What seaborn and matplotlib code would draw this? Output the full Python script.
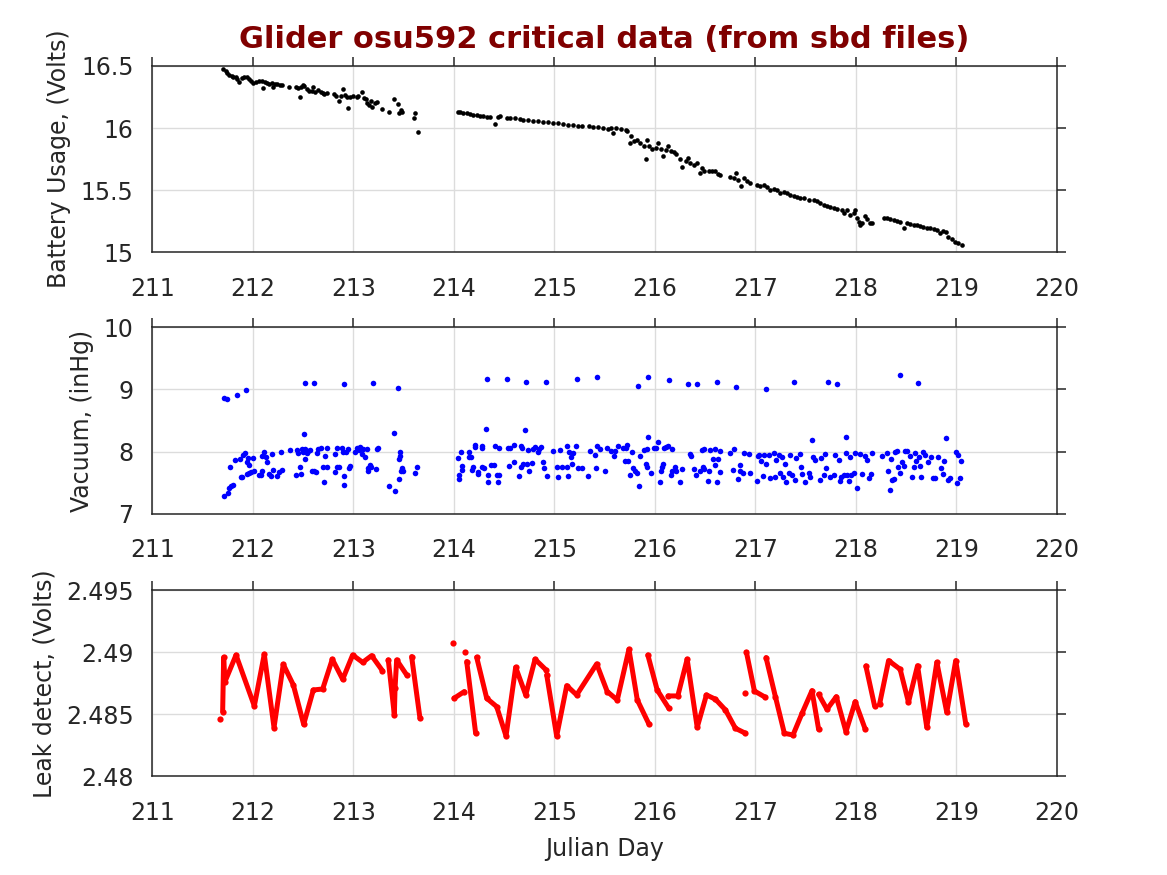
import matplotlib
matplotlib.use("Agg")
import matplotlib.pyplot as plt
import seaborn as sns
import numpy as np
import pandas as pd
from matplotlib.ticker import FormatStrFormatter

# ---- battery voltage (black dots), three legs of the mission
batt_day_a = [
    211.706, 211.730, 211.746, 211.766, 211.789, 211.806, 211.833, 211.846,
    211.866, 211.889, 211.915, 211.939, 211.959, 211.978, 212.005, 212.032,
    212.065, 212.088, 212.104, 212.121, 212.144, 212.164, 212.187, 212.197,
    212.221, 212.244, 212.270, 212.287, 212.363, 212.426, 212.446, 212.469,
    212.479, 212.496, 212.509, 212.536, 212.559, 212.585, 212.602, 212.619,
    212.652, 212.675, 212.695, 212.711, 212.735, 212.808, 212.828, 212.861,
    212.874, 212.894, 212.917, 212.934, 212.950, 212.967, 213.000, 213.033,
    213.050, 213.090, 213.109, 213.123, 213.139, 213.156, 213.172, 213.189,
    213.216, 213.232, 213.282, 213.352, 213.408, 213.448, 213.458, 213.471,
    213.488, 213.607, 213.614, 213.640,
]
batt_volts_a = [
    16.473, 16.462, 16.441, 16.430, 16.422, 16.414, 16.409, 16.393,
    16.371, 16.401, 16.414, 16.409, 16.398, 16.382, 16.360, 16.374,
    16.382, 16.377, 16.320, 16.369, 16.360, 16.352, 16.360, 16.334,
    16.352, 16.352, 16.347, 16.350, 16.334, 16.328, 16.320, 16.253,
    16.328, 16.347, 16.339, 16.312, 16.301, 16.301, 16.328, 16.293,
    16.307, 16.293, 16.280, 16.275, 16.280, 16.275, 16.259, 16.221,
    16.259, 16.315, 16.267, 16.248, 16.159, 16.248, 16.261, 16.253,
    16.259, 16.293, 16.245, 16.232, 16.205, 16.186, 16.221, 16.173,
    16.205, 16.213, 16.154, 16.132, 16.234, 16.194, 16.124, 16.146,
    16.132, 16.084, 16.119, 15.971,
]
batt_day_b = [
    214.038, 214.061, 214.095, 214.128, 214.161, 214.194, 214.227, 214.260,
    214.294, 214.327, 214.360, 214.410, 214.443, 214.459, 214.526, 214.559,
    214.609, 214.658, 214.692, 214.741, 214.791, 214.841, 214.891, 214.940,
    214.990, 215.040, 215.090, 215.139, 215.189, 215.239, 215.272, 215.348,
    215.388, 215.438, 215.488, 215.537, 215.560, 215.586, 215.609, 215.659,
    215.709, 215.725, 215.752, 215.765, 215.791, 215.825, 215.851, 215.891,
    215.907, 215.924, 215.940, 215.974, 216.007, 216.030, 216.056, 216.083,
    216.106, 216.132, 216.156, 216.189, 216.215, 216.248, 216.265, 216.305,
    216.328, 216.354, 216.394, 216.421, 216.447, 216.470, 216.493, 216.536,
    216.570, 216.603, 216.626, 216.646, 216.752, 216.785, 216.811, 216.825,
    216.858, 216.884, 216.917, 216.950, 217.017, 217.050, 217.083, 217.116,
    217.149, 217.182, 217.215, 217.248, 217.281, 217.315, 217.348, 217.381,
    217.414, 217.447, 217.480, 217.530, 217.579, 217.613, 217.646, 217.679,
    217.712, 217.745, 217.778, 217.811, 217.861, 217.877, 217.911, 217.944,
    217.977, 217.993, 218.010, 218.026, 218.043, 218.060, 218.093, 218.109,
    218.142, 218.159,
]
batt_volts_b = [
    16.132, 16.130, 16.124, 16.119, 16.114, 16.108, 16.103, 16.100,
    16.098, 16.092, 16.092, 16.036, 16.092, 16.098, 16.079, 16.084,
    16.081, 16.073, 16.068, 16.065, 16.060, 16.057, 16.052, 16.049,
    16.044, 16.039, 16.033, 16.028, 16.022, 16.020, 16.017, 16.014,
    16.009, 16.009, 16.001, 15.996, 16.003, 15.960, 16.000, 15.992,
    15.987, 15.973, 15.879, 15.938, 15.892, 15.901, 15.879, 15.852,
    15.750, 15.906, 15.852, 15.831, 15.839, 15.879, 15.831, 15.777,
    15.825, 15.852, 15.812, 15.804, 15.790, 15.750, 15.683, 15.731,
    15.758, 15.718, 15.704, 15.718, 15.642, 15.677, 15.656, 15.651,
    15.651, 15.656, 15.632, 15.624, 15.610, 15.597, 15.642, 15.583,
    15.530, 15.597, 15.570, 15.556, 15.543, 15.535, 15.543, 15.524,
    15.503, 15.508, 15.503, 15.476, 15.489, 15.476, 15.462, 15.454,
    15.444, 15.435, 15.435, 15.422, 15.417, 15.409, 15.395, 15.382,
    15.374, 15.363, 15.355, 15.349, 15.341, 15.315, 15.341, 15.301,
    15.320, 15.341, 15.274, 15.247, 15.220, 15.239, 15.293, 15.266,
    15.235, 15.239,
]
batt_day_c = [
    218.275, 218.308, 218.341, 218.374, 218.407, 218.440, 218.474, 218.507,
    218.540, 218.573, 218.606, 218.639, 218.672, 218.705, 218.738, 218.772,
    218.805, 218.838, 218.871, 218.897, 218.921, 218.954, 218.987, 219.020,
    219.053,
]
batt_volts_c = [
    15.274, 15.272, 15.266, 15.261, 15.255, 15.247, 15.194, 15.239,
    15.228, 15.220, 15.218, 15.212, 15.207, 15.199, 15.194, 15.188,
    15.180, 15.153, 15.172, 15.167, 15.126, 15.105, 15.086, 15.073,
    15.059,
]

# ---- vacuum (blue dots)
vac_day_hi = [
    211.716, 211.743, 211.839, 211.935, 212.516, 212.612, 212.904, 213.192,
    213.441, 214.330, 214.529, 214.718, 214.914, 215.229, 215.428, 215.834,
    215.934, 216.139, 216.331, 216.421, 216.616, 216.811, 217.103, 217.384,
    217.719, 217.811, 218.434, 218.619,
]
vac_inhg_hi = [
    8.870, 8.843, 8.918, 8.988, 9.100, 9.100, 9.084, 9.100,
    9.030, 9.164, 9.164, 9.127, 9.127, 9.170, 9.207, 9.063,
    9.196, 9.148, 9.089, 9.089, 9.116, 9.041, 9.009, 9.127,
    9.121, 9.084, 9.239, 9.111,
]
vac_day_a = [
    211.710, 211.753, 211.763, 211.783, 211.803, 211.776, 211.826, 211.872,
    211.879, 211.892, 211.905, 211.925, 211.939, 211.955, 211.965, 211.945,
    211.959, 211.978, 211.998, 212.012, 212.058, 212.078, 212.095, 212.088,
    212.111, 212.131, 212.138, 212.164, 212.181, 212.187, 212.204, 212.237,
    212.260, 212.277, 212.294, 212.370, 212.426, 212.436, 212.453, 212.469,
    212.476, 212.489, 212.502, 212.509, 212.519, 212.522, 212.536, 212.552,
    212.569, 212.585, 212.605, 212.629, 212.642, 212.652, 212.682, 212.695,
    212.711, 212.718, 212.735, 212.735, 212.818, 212.818, 212.834, 212.841,
    212.861, 212.887, 212.894, 212.910, 212.910, 212.924, 212.944, 212.957,
    212.967, 213.017, 213.033, 213.053, 213.066, 213.090, 213.100, 213.116,
    213.139, 213.146, 213.149, 213.162, 213.172, 213.222, 213.232, 213.249,
    213.355, 213.405, 213.415, 213.451, 213.458, 213.464, 213.468, 213.478,
    213.488, 213.494, 213.617, 213.637,
]
vac_inhg_a = [
    7.295, 7.338, 7.423, 7.455, 7.471, 7.761, 7.868, 7.879,
    7.600, 7.589, 7.948, 7.975, 7.830, 7.895, 7.788, 7.643,
    7.664, 7.675, 7.895, 7.691, 7.621, 7.621, 7.697, 7.938,
    7.996, 7.911, 7.841, 7.648, 7.611, 7.964, 7.707, 7.616,
    7.670, 8.002, 7.702, 8.029, 7.632, 8.034, 7.986, 7.761,
    7.648, 8.039, 7.991, 8.280, 8.050, 7.889, 7.980, 8.013,
    8.023, 7.697, 7.697, 7.675, 7.975, 8.050, 8.055, 7.755,
    7.520, 7.932, 8.055, 7.750, 7.680, 7.959, 7.761, 8.055,
    7.761, 8.066, 7.996, 7.611, 7.461, 8.002, 8.050, 7.734,
    7.766, 8.002, 8.061, 8.034, 8.082, 7.970, 8.039, 7.911,
    8.039, 7.734, 7.691, 7.788, 7.753, 7.723, 8.050, 8.061,
    7.450, 8.296, 7.364, 7.557, 7.879, 7.927, 7.991, 7.697,
    7.739, 7.691, 7.664, 7.753,
]
vac_day_b = [
    214.041, 214.051, 214.051, 214.068, 214.085, 214.085, 214.151, 214.154,
    214.174, 214.181, 214.194, 214.207, 214.211, 214.237, 214.244, 214.277,
    214.280, 214.284, 214.300, 214.320, 214.337, 214.337, 214.370, 214.403,
    214.406, 214.433, 214.436, 214.446, 214.453, 214.542, 214.549, 214.559,
    214.602, 214.602, 214.652, 214.665, 214.665, 214.675, 214.685, 214.708,
    214.725, 214.741, 214.751, 214.774, 214.791, 214.808, 214.834, 214.847,
    214.867, 214.891, 214.897, 214.930, 214.983, 215.030, 215.040, 215.056,
    215.076, 215.123, 215.129, 215.133, 215.146, 215.163, 215.176, 215.189,
    215.212, 215.239, 215.279, 215.338, 215.355, 215.405, 215.411, 215.421,
    215.454, 215.501, 215.521,
]
vac_inhg_b = [
    7.895, 7.621, 7.563, 7.991, 7.777, 7.713, 8.002, 7.921,
    7.921, 7.707, 7.750, 8.077, 8.104, 7.680, 7.638, 8.093,
    8.055, 7.761, 7.739, 8.361, 7.621, 7.514, 7.793, 7.793,
    8.098, 7.621, 7.514, 7.621, 8.055, 8.055, 7.777, 8.055,
    8.104, 7.841, 7.611, 8.088, 7.761, 8.055, 7.798, 8.350,
    7.804, 8.029, 7.697, 7.825, 8.050, 8.082, 8.002, 8.039,
    8.071, 7.830, 7.745, 7.605, 8.018, 7.750, 7.600, 8.029,
    7.750, 8.093, 7.761, 7.611, 8.002, 7.921, 7.804, 7.975,
    8.093, 7.734, 7.739, 7.616, 8.018, 7.954, 7.745, 8.093,
    8.045, 7.697, 8.055,
]
vac_day_c = [
    215.560, 215.593, 215.603, 215.632, 215.682, 215.699, 215.709, 215.725,
    215.732, 215.752, 215.768, 215.781, 215.801, 215.818, 215.844, 215.851,
    215.891, 215.907, 215.917, 215.924, 215.934, 215.957, 215.990, 216.007,
    216.033, 216.046, 216.056, 216.073, 216.083, 216.089, 216.106, 216.132,
    216.156, 216.166, 216.172, 216.205, 216.215, 216.248, 216.265, 216.348,
    216.361, 216.394, 216.411, 216.447, 216.464, 216.480, 216.487, 216.493,
    216.526, 216.543, 216.553, 216.579, 216.599, 216.603, 216.619, 216.626,
    216.646, 216.652, 216.752, 216.778, 216.791, 216.825, 216.844, 216.851,
    216.877, 216.884, 216.934, 216.950, 217.017, 217.023, 217.036, 217.056,
    217.073, 217.083, 217.106, 217.136, 217.149, 217.182, 217.199, 217.209,
    217.232, 217.248, 217.265, 217.275, 217.298, 217.308, 217.331, 217.348,
    217.364, 217.397, 217.407, 217.440, 217.454, 217.464, 217.497, 217.530,
    217.546, 217.563, 217.570, 217.596, 217.646, 217.652, 217.679, 217.695,
    217.705, 217.745, 217.778, 217.795, 217.828, 217.838, 217.851, 217.877,
    217.901, 217.904, 217.911, 217.927, 217.937, 217.950, 217.977, 217.993,
    218.007, 218.043, 218.060, 218.093, 218.109, 218.126, 218.149, 218.159,
    218.258, 218.308, 218.315, 218.341, 218.351, 218.358, 218.374, 218.391,
    218.407, 218.417, 218.440, 218.457, 218.474, 218.490, 218.507, 218.540,
    218.556, 218.573, 218.589, 218.599, 218.623, 218.639, 218.646, 218.672,
    218.689, 218.722, 218.745, 218.765, 218.788, 218.821, 218.844, 218.871,
    218.881, 218.897, 218.921, 218.937, 218.997, 219.003, 219.020, 219.036,
    219.046,
]
vac_inhg_c = [
    8.013, 7.938, 8.013, 8.093, 8.055, 7.846, 8.066, 8.104,
    7.846, 7.627, 8.002, 7.739, 7.697, 7.664, 7.455, 7.938,
    8.029, 7.798, 7.761, 8.039, 8.232, 7.654, 8.055, 8.066,
    8.157, 7.520, 7.697, 7.761, 7.804, 8.055, 8.082, 8.093,
    7.621, 7.697, 8.045, 7.761, 7.697, 7.520, 7.723, 7.964,
    7.932, 7.723, 7.627, 7.697, 8.029, 7.761, 8.045, 7.718,
    7.525, 7.697, 8.029, 7.879, 8.050, 7.793, 7.514, 7.884,
    8.018, 7.675, 7.986, 7.707, 8.050, 7.557, 7.793, 7.697,
    7.664, 7.986, 7.964, 7.654, 7.531, 7.932, 7.948, 7.857,
    7.616, 7.954, 7.804, 7.948, 7.584, 7.975, 7.600, 7.863,
    7.948, 7.654, 7.921, 7.600, 7.804, 7.509, 7.664, 7.948,
    7.621, 7.547, 7.905, 7.959, 7.761, 7.643, 7.514, 7.664,
    7.600, 8.189, 7.921, 7.868, 7.547, 7.895, 7.621, 7.964,
    7.739, 7.600, 7.621, 7.948, 7.873, 7.536, 7.600, 7.621,
    8.232, 7.975, 7.627, 7.536, 7.911, 7.621, 7.654, 7.986,
    7.413, 7.959, 7.643, 7.932, 7.868, 7.573, 7.638, 7.986,
    7.932, 7.986, 7.686, 7.386, 7.879, 7.547, 7.557, 8.002,
    8.013, 7.761, 7.654, 7.836, 7.777, 8.013, 8.013, 7.932,
    7.589, 7.761, 7.986, 7.857, 7.921, 7.777, 7.589, 8.002,
    7.948, 7.836, 7.916, 7.573, 7.573, 7.916, 7.734, 7.638,
    7.857, 8.227, 7.547, 7.573, 8.002, 7.493, 7.954, 7.579,
    7.846,
]

# ---- leak detect (red line, broken where files are missing)
leak_day = [
    211.673,
    211.700, 211.710, 211.723, 211.833, 212.015, 212.114, 212.211, 212.303,
    212.403, 212.506, 212.602, 212.695, 212.791, 212.894, 212.993, 213.093,
    213.182, 213.289,
    213.348, 213.408, 213.415, 213.431, 213.531,
    213.580, 213.663,
    213.988,
    214.002, 214.104,
    214.111,
    214.128, 214.217,
    214.227, 214.327, 214.426, 214.519, 214.615, 214.715, 214.808, 214.917,
    214.924, 215.023, 215.123, 215.222, 215.421, 215.526, 215.626, 215.742,
    215.825, 215.940,
    215.930, 216.023, 216.139,
    216.132, 216.228, 216.321, 216.421, 216.513, 216.603, 216.702, 216.801,
    216.901,
    216.901,
    216.911, 216.990, 217.099,
    217.106, 217.199, 217.288, 217.374, 217.464, 217.563, 217.629,
    217.629, 217.712, 217.805, 217.901, 217.993, 218.093,
    218.099, 218.185,
    218.235, 218.325, 218.440, 218.523, 218.613, 218.705, 218.805, 218.904,
    218.993, 219.093,
]
leak_volts = [
    2.48460,
    2.48522, 2.48960, 2.48763, 2.48978, 2.48567, 2.48984, 2.48393, 2.48903,
    2.48737, 2.48419, 2.48696, 2.48704, 2.48944, 2.48782, 2.48978, 2.48919,
    2.48973, 2.48852,
    2.48938, 2.48495, 2.48710, 2.48938, 2.48817,
    2.48965, 2.48468,
    2.49078,
    2.48629, 2.48683,
    2.49000,
    2.48925, 2.48347,
    2.48960, 2.48629, 2.48562, 2.48325, 2.48879, 2.48656, 2.48944, 2.48858,
    2.48817, 2.48325, 2.48731, 2.48656, 2.48906, 2.48683, 2.48616, 2.49024,
    2.48616, 2.48422,
    2.48978, 2.48696, 2.48548,
    2.48648, 2.48648, 2.48944, 2.48395, 2.48656, 2.48621, 2.48535, 2.48387,
    2.48347,
    2.48669,
    2.49000, 2.48688, 2.48637,
    2.48957, 2.48642, 2.48347, 2.48333, 2.48508, 2.48691, 2.48379,
    2.48661, 2.48540, 2.48642, 2.48360, 2.48602, 2.48379,
    2.48890, 2.48570,
    2.48581, 2.48933, 2.48863, 2.48597, 2.48892, 2.48395, 2.48919, 2.48516,
    2.48933, 2.48422,
]
# number of samples in each unbroken piece of the leak record
leak_piece_sizes = [1, 18, 5, 2, 1, 2, 1, 2, 8, 10, 3, 9, 1, 3, 7, 6, 2, 10]

title = "Glider osu592 critical data (from sbd files)"
day_ticks = list(range(211, 221))

# ---- build tables
batt = pd.DataFrame({
    "day": batt_day_a + batt_day_b + batt_day_c,
    "volts": batt_volts_a + batt_volts_b + batt_volts_c,
})
vac = pd.DataFrame({
    "day": vac_day_hi + vac_day_a + vac_day_b + vac_day_c,
    "inhg": vac_inhg_hi + vac_inhg_a + vac_inhg_b + vac_inhg_c,
})
leak = pd.DataFrame({
    "day": leak_day,
    "volts": leak_volts,
    "piece": np.repeat(np.arange(len(leak_piece_sizes)), leak_piece_sizes),
})

sns.set_style("white")
plt.rcParams['font.family'] = ['DejaVu Sans']
ink = '#262626'

fig = plt.figure(figsize=(11.67, 8.75), dpi=100)
ax1 = fig.add_axes([0.1305, 0.7117, 0.7752, 0.2129])
ax2 = fig.add_axes([0.1305, 0.4126, 0.7752, 0.2134])
ax3 = fig.add_axes([0.1305, 0.1128, 0.7752, 0.2126])


def matlab_look(ax, ylim, yticks, ylabel):
    ax.set_xlim(211, 220)
    ax.set_xticks(day_ticks)
    ax.set_ylim(*ylim)
    ax.set_yticks(yticks)
    ax.yaxis.set_major_formatter(FormatStrFormatter('%g'))
    ax.grid(True, color='#dcdcdc', lw=1.0)
    ax.set_axisbelow(True)
    ax.tick_params(direction='out', length=6.5, width=1.1, color=ink, labelcolor=ink,
                   labelsize=17, top=True, right=True)
    ax.tick_params(axis='x', pad=11)
    ax.tick_params(axis='y', pad=7)
    for s in ax.spines.values():
        s.set_visible(True)
        s.set_color(ink)
        s.set_linewidth(1.1)
    ax.set_xlabel('')
    ax.set_ylabel(ylabel, fontsize=17, color=ink, labelpad=7)


sns.scatterplot(data=batt, x="day", y="volts", ax=ax1, color='black', s=11,
                linewidth=0, legend=False)
matlab_look(ax1, (15, 16.5), [15, 15.5, 16, 16.5], 'Battery Usage, (Volts)')
ax1.set_title(title, color='#800000', fontsize=22, fontweight='bold', pad=13)

sns.scatterplot(data=vac, x="day", y="inhg", ax=ax2, color='#0000ff', s=16,
                linewidth=0, legend=False)
matlab_look(ax2, (7, 10), [7, 8, 9, 10], 'Vacuum, (inHg)')

sns.lineplot(data=leak, x="day", y="volts", units="piece", estimator=None, sort=False,
             ax=ax3, color='#ff0000', lw=3.6, marker='o', markersize=4.5,
             markeredgewidth=0, legend=False)
matlab_look(ax3, (2.48, 2.495), [2.48, 2.485, 2.49, 2.495], 'Leak detect, (Volts)')
ax3.set_xlabel('Julian Day', fontsize=17, color=ink, labelpad=9)

plt.savefig('out.png', dpi=100)
